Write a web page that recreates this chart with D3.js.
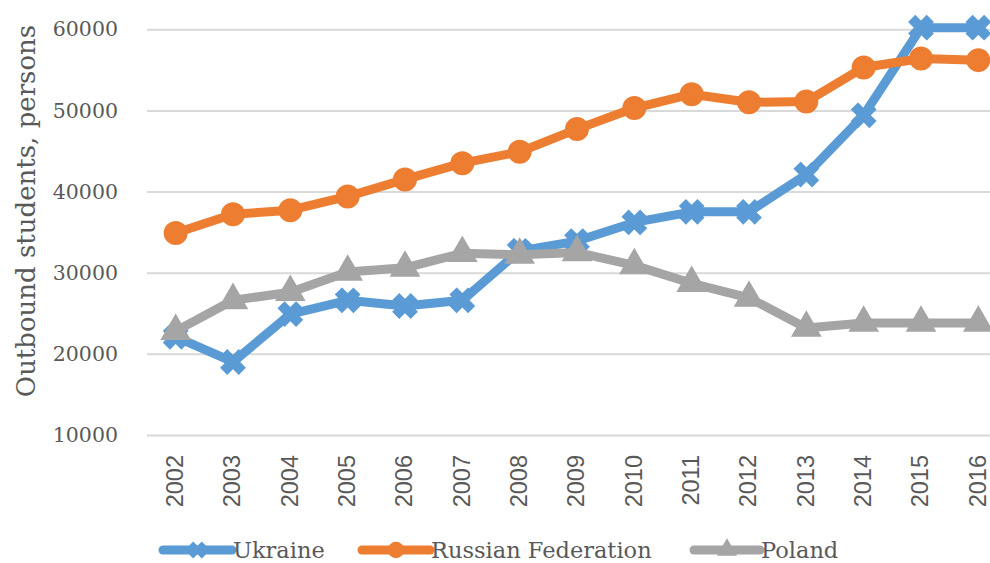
<!DOCTYPE html>
<html>
<head>
<meta charset="utf-8">
<script src="https://cdn.jsdelivr.net/npm/d3@7"></script>
<style>
  html, body { margin: 0; padding: 0; background: #fff; overflow: hidden; }
  svg { display: block; overflow: hidden; }
</style>
</head>
<body>
<svg id="chart" width="990" height="563"></svg>
<script>
// Outbound students by country of origin, 2002-2016.
var years = ['2002', '2003', '2004', '2005', '2006', '2007', '2008', '2009',
  '2010', '2011', '2012', '2013', '2014', '2015', '2016'];

var ukraine = [22100, 19000, 24900, 26600, 25900, 26600, 32700, 33900,
  36200, 37500, 37500, 42100, 49400, 60200, 60200];
var russia = [34900, 37200, 37700, 39400, 41500, 43500, 44900, 47700,
  50300, 52000, 51000, 51100, 55300, 56400, 56200];
var poland = [22800, 26600, 27600, 30100, 30600, 32400, 32200, 32500,
  30900, 28700, 26900, 23200, 23800, 23800, 23800];

var yTicks = [10000, 20000, 30000, 40000, 50000, 60000];
var yTitle = 'Outbound students, persons';

var series = [
  { name: 'Ukraine', values: ukraine, color: '#5b9bd5', symbol: 'x' },
  { name: 'Russian Federation', values: russia, color: '#ed7d31', symbol: 'circle' },
  { name: 'Poland', values: poland, color: '#a5a5a5', symbol: 'triangle' }
];

var svg = d3.select('#chart');
var textColor = '#595959';
var serif = '"DejaVu Serif", serif';

// Plot area; the right edge runs past the picture, as in the original.
var plotLeft = 147, plotRight = 1007, plotTop = 29.3, plotBottom = 435;

var x = d3.scaleBand().domain(years).range([plotLeft, plotRight]);
var y = d3.scaleLinear().domain([10000, 60000]).range([plotBottom, plotTop]);
var cx = function(d, i) { return x(years[i]) + x.bandwidth() / 2; };

// Gridlines and y labels.
var gy = svg.append('g')
  .attr('transform', 'translate(' + plotLeft + ',0)')
  .call(d3.axisLeft(y)
    .tickValues(yTicks)
    .tickSizeInner(-(plotRight - plotLeft))
    .tickSizeOuter(0)
    .tickPadding(29)
    .tickFormat(d3.format('d')));
gy.select('.domain').remove();
gy.selectAll('.tick line').attr('stroke', '#d9d9d9').attr('stroke-width', 2);
gy.selectAll('.tick text')
  .attr('fill', textColor)
  .style('font-family', serif)
  .style('font-size', '20.5px');

// Year labels, rotated.
var gx = svg.append('g')
  .attr('transform', 'translate(0,' + plotBottom + ')')
  .call(d3.axisBottom(x).tickSize(0).tickPadding(0));
gx.select('.domain').remove();
gx.selectAll('.tick text')
  .attr('fill', textColor)
  .attr('text-anchor', 'end')
  .attr('transform', 'translate(-1,20) rotate(-90)')
  .attr('x', 0)
  .attr('y', 0)
  .attr('dy', '0.36em')
  .style('font-family', '"Liberation Sans", Arial, sans-serif')
  .style('font-size', '23.5px');

// Axis title (sits a little above the plot's middle, as in the original).
svg.append('text')
  .attr('transform', 'translate(26,211) rotate(-90)')
  .attr('text-anchor', 'middle')
  .attr('dy', '0.35em')
  .attr('fill', textColor)
  .style('font-family', serif)
  .style('font-size', '26px')
  .text(yTitle);

function symbolPath(kind, scale) {
  if (kind == 'circle') return d3.symbol(d3.symbolCircle, 380 * scale)();
  if (kind == 'triangle') return d3.symbol(d3.symbolTriangle, 320 * scale)();
  return d3.symbol(d3.symbolCross, 330 * scale)();
}
function symbolRotate(kind) {
  return kind == 'x' ? ' rotate(45)' : '';
}

var line = d3.line()
  .x(cx)
  .y(function(d) { return y(d); });

// Lines and markers, one series after another.
series.forEach(function(s) {
  var g = svg.append('g').attr('class', 'series');
  g.append('path')
    .datum(s.values)
    .attr('d', line)
    .attr('fill', 'none')
    .attr('stroke', s.color)
    .attr('stroke-width', 9)
    .attr('stroke-linejoin', 'round')
    .attr('stroke-linecap', 'round');
  g.selectAll('path.marker')
    .data(s.values)
    .enter().append('path')
      .attr('class', 'marker')
      .attr('d', symbolPath(s.symbol, 1))
      .attr('transform', function(d, i) {
        return 'translate(' + cx(d, i) + ',' + y(d) + ')' + symbolRotate(s.symbol);
      })
      .attr('fill', s.color)
      .attr('stroke', s.color)
      .attr('stroke-width', 2);
});

// Legend.
var legendY = 550;
var legendItems = [
  { x0: 163, x1: 232 },
  { x0: 362, x1: 430 },
  { x0: 694, x1: 760 }
];
series.forEach(function(s, i) {
  var it = legendItems[i];
  var g = svg.append('g');
  g.append('line')
    .attr('x1', it.x0).attr('x2', it.x1)
    .attr('y1', legendY).attr('y2', legendY)
    .attr('stroke', s.color)
    .attr('stroke-width', 9)
    .attr('stroke-linecap', 'round');
  g.append('path')
    .attr('d', symbolPath(s.symbol, 0.55))
    .attr('transform', 'translate(' + (it.x0 + it.x1) / 2 + ',' + legendY + ')' + symbolRotate(s.symbol))
    .attr('fill', s.color);
  g.append('text')
    .attr('x', it.x1 + 1)
    .attr('y', legendY)
    .attr('dy', '0.35em')
    .attr('fill', textColor)
    .style('font-family', serif)
    .style('font-size', '22.5px')
    .text(s.name);
});
</script>
</body>
</html>
